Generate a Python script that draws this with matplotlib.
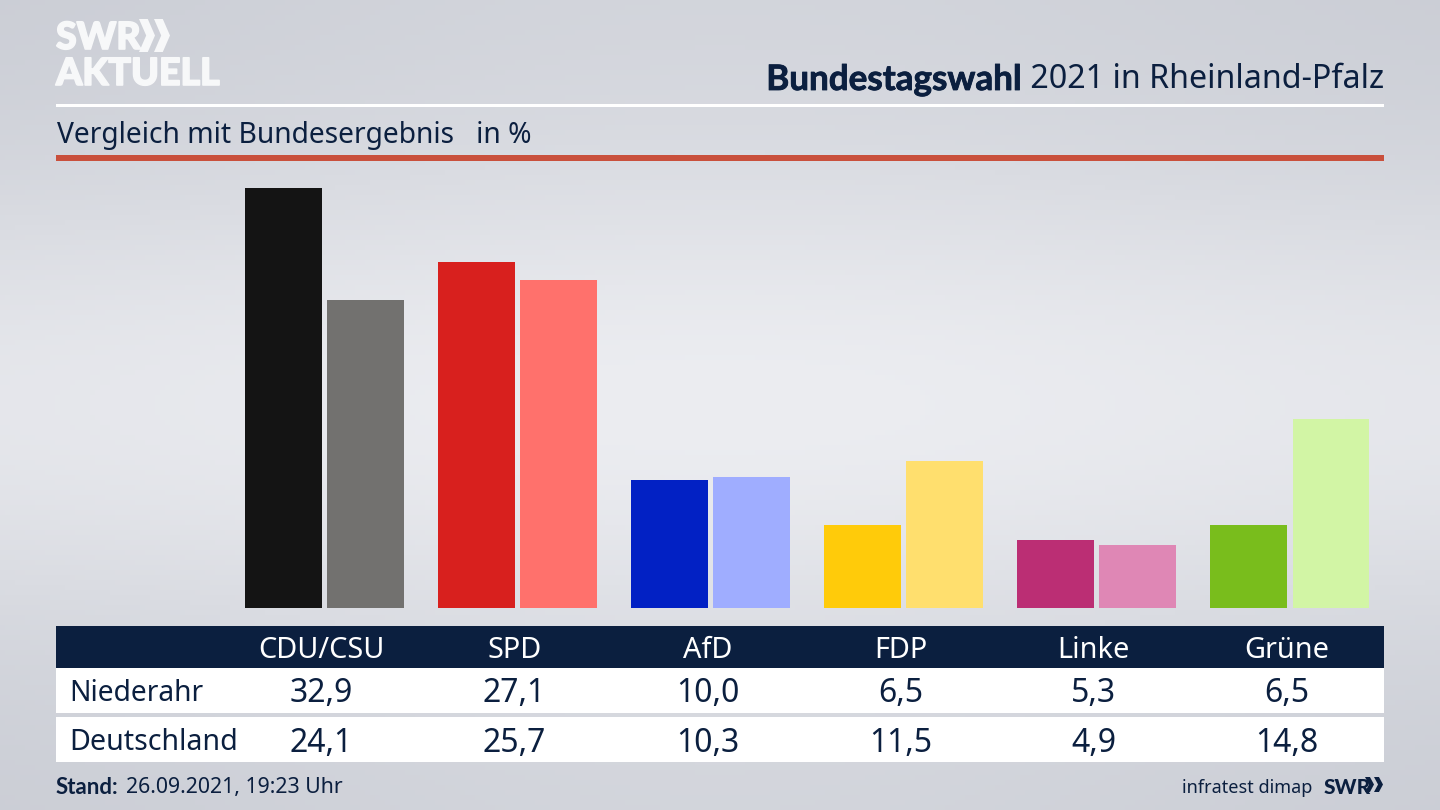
import numpy as np
import matplotlib
matplotlib.use("Agg")
import matplotlib.pyplot as plt
import matplotlib.patheffects as pe
from matplotlib.patches import Rectangle, Polygon

plt.rcParams['font.family'] = ['Noto Sans', 'DejaVu Sans']

# data
parties = ["CDU/CSU", "SPD", "AfD", "FDP", "Linke", "Grüne"]
niederahr = [32.9, 27.1, 10.0, 6.5, 5.3, 6.5]
deutschland = [24.1, 25.7, 10.3, 11.5, 4.9, 14.8]
colors_local = ['#141414', '#d8201e', '#0221c4', '#ffcb0a', '#bb2e74', '#79bd1c']
colors_federal = ['#72716f', '#ff716c', '#9fadff', '#ffdf6e', '#df87b5', '#d2f5a5']

NAVY = '#0b1f3f'
LOGO = '#f7f8f9'
W, H = 1440, 810

fig = plt.figure(figsize=(14.4, 8.1), dpi=100)

# background + frame, everything in pixel coords
bg = fig.add_axes([0, 0, 1, 1])
bg.set_xlim(0, W)
bg.set_ylim(H, 0)
bg.axis('off')

yy, xx = np.mgrid[0:1:162j, 0:1:288j]
shade = np.exp(-((yy - 0.5) / 0.30) ** 2) * 0.75 + np.exp(-((xx - 0.5) / 0.42) ** 2) * 0.25
c0 = np.array([0xc8, 0xcb, 0xd3]) / 255
c1 = np.array([0xec, 0xed, 0xf1]) / 255
grad = c0 + (c1 - c0) * shade[..., None]
bg.imshow(grad, extent=(0, W, H, 0), aspect='auto', zorder=0)


def rect(x0, y0, x1, y1, color):
    bg.add_patch(Rectangle((x0, y0), x1 - x0, y1 - y0, facecolor=color, edgecolor='none', zorder=1))


def chevrons(x, y, h, w, color, gap):
    # the double arrow of the SWR logo
    for dx in (0, gap):
        t = w * 0.55
        bg.add_patch(Polygon([(x + dx, y), (x + dx + t, y), (x + dx + w, y + h / 2),
                              (x + dx + t, y + h), (x + dx, y + h), (x + dx + w - t, y + h / 2)],
                             closed=True, facecolor=color, edgecolor='none', zorder=2))


# header lines
rect(56, 104, 1384, 107, 'white')
rect(56, 155, 1384, 160.5, '#c9503c')

# logo, stroke makes it as heavy as the original
thick = [pe.withStroke(linewidth=1.2, foreground=LOGO)]
bg.text(56, 38, "SWR", fontsize=27, fontweight='black', color=LOGO, family='Lato',
        ha='left', va='center', zorder=2, path_effects=thick)
chevrons(139, 19, 33, 16, LOGO, 15)
bg.text(56, 74, "AKTUELL", fontsize=27, fontweight='black', color=LOGO, family='Lato',
        ha='left', va='center', zorder=2, path_effects=thick)

# title, bold part hangs on the regular part
renderer = fig.canvas.get_renderer()
t_reg = bg.text(1384, 80, " 2021 in Rheinland-Pfalz", fontsize=23.2, color=NAVY, ha='right', va='center', zorder=2)
box = t_reg.get_window_extent(renderer)
bg.text(box.x0, 80, "Bundestagswahl", fontsize=25.2, fontweight='bold', family='Lato', color=NAVY,
        ha='right', va='center', zorder=2, path_effects=[pe.withStroke(linewidth=0.6, foreground=NAVY)])

bg.text(57, 135, "Vergleich mit Bundesergebnis   in %", fontsize=20.3, color=NAVY, ha='left', va='center', zorder=2)

# table
rect(56, 626, 1384, 668, NAVY)
rect(56, 668, 1384, 713, 'white')
rect(56, 717, 1384, 762, 'white')
bg.text(69, 693.5, "Niederahr", fontsize=20.3, color=NAVY, ha='left', va='center', zorder=2)
bg.text(69, 742.5, "Deutschland", fontsize=20.6, color=NAVY, ha='left', va='center', zorder=2)

# bars
BASE, TOP = 608, 160
UNIT = 420 / 32.9
STEP = 193.1
X0 = 324.4
ax = fig.add_axes([56 / W, 1 - BASE / H, (1384 - 56) / W, (BASE - TOP) / H], facecolor='none')
ax.set_xlim((56 - X0) / STEP, (1384 - X0) / STEP)
ax.set_ylim(0, (BASE - TOP) / UNIT)
ax.axis('off')
x = np.arange(len(parties))
ax.bar(x - 0.2125, niederahr, width=0.398, color=colors_local)
ax.bar(x + 0.2125, deutschland, width=0.398, color=colors_federal)

for i, party in enumerate(parties):
    cx = X0 - 3 + i * STEP
    bg.text(cx, 650, party, fontsize=20.8, color='white', ha='center', va='center', zorder=2)
    bg.text(cx, 694, f"{niederahr[i]:.1f}".replace('.', ','), fontsize=23, color=NAVY, ha='center', va='center', zorder=2)
    bg.text(cx, 743, f"{deutschland[i]:.1f}".replace('.', ','), fontsize=23, color=NAVY, ha='center', va='center', zorder=2)

# footer
bg.text(56, 788, "Stand:", fontsize=16, fontweight='bold', family='Lato', color=NAVY, ha='left', va='center', zorder=2)
bg.text(126, 788, "26.09.2021, 19:23 Uhr", fontsize=15.3, color=NAVY, ha='left', va='center', zorder=2)
bg.text(1312, 788, "infratest dimap", fontsize=13, color=NAVY, ha='right', va='center', zorder=2)
bg.text(1324, 788, "SWR", fontsize=15, fontweight='black', color=NAVY, family='Lato', ha='left', va='center', zorder=2)
chevrons(1365, 777, 15, 9, NAVY, 9)

fig.savefig('out.png', dpi=100)
